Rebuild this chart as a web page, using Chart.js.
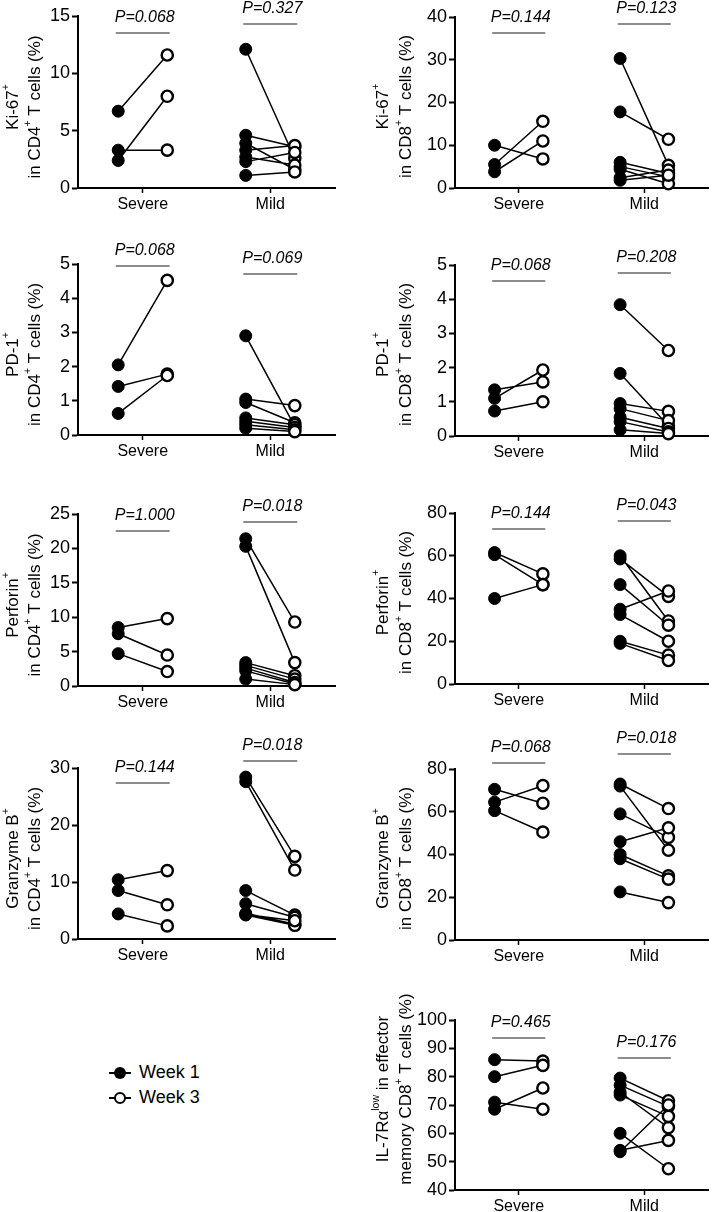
<!DOCTYPE html>
<html>
<head>
<meta charset="utf-8">
<script src="https://cdn.jsdelivr.net/npm/chart.js@4.4.1/dist/chart.umd.min.js"></script>
<style>
  body { margin: 0; background: #fff; }
  #page { position: relative; width: 716px; height: 1212px; overflow: hidden; }
  #page canvas { position: absolute; }
  .legend { position: absolute; left: 108px; top: 1060px; font: 18px "Liberation Sans", Arial, sans-serif; color: #000; }
  .legend .row { height: 25px; line-height: 25px; display: flex; align-items: center; }
  .legend .mk { position: relative; width: 24px; height: 14px; margin-right: 7px; }
  .legend .mk::before { content: ''; position: absolute; left: 1px; right: 1px; top: 6px; height: 2px; background: #000; }
  .legend .mk::after { content: ''; position: absolute; left: 6px; top: 1px; width: 12px; height: 12px; border-radius: 50%; box-sizing: border-box; background: #000; }
  .legend .mk.open::after { background: #fff; border: 2.5px solid #000; }
</style>
</head>
<body>
<div id="page"></div>
<script>
// groups / weeks
const groups = ['Severe', 'Mild'];
const weeks = ['Week 1', 'Week 3'];

// Ki-67+ in CD4+ T cells
const ki67Cd4Title = ['Ki-67^{+}', 'in CD4^{+} T cells (%)'];
const ki67Cd4Ticks = [0, 5, 10, 15];
const ki67Cd4Wk1 = [[6.7, 3.3, 2.4], [12.1, 4.6, 3.9, 3.3, 2.7, 2.3, 1.1]];
const ki67Cd4Wk3 = [[11.6, 3.3, 8.0], [2.6, 3.6, 1.6, 3.7, 2.0, 3.1, 1.4]];
const ki67Cd4P = ['0.068', '0.327'];

// Ki-67+ in CD8+ T cells
const ki67Cd8Title = ['Ki-67^{+}', 'in CD8^{+} T cells (%)'];
const ki67Cd8Ticks = [0, 10, 20, 30, 40];
const ki67Cd8Wk1 = [[10.0, 5.5, 3.8], [30.3, 17.8, 6.0, 5.0, 4.4, 2.4, 1.8]];
const ki67Cd8Wk3 = [[6.8, 15.6, 11.0], [5.3, 11.4, 3.4, 2.6, 1.0, 4.2, 3.0]];
const ki67Cd8P = ['0.144', '0.123'];

// PD-1+ in CD4+ T cells
const pd1Cd4Title = ['PD-1^{+}', 'in CD4^{+} T cells (%)'];
const pd1Cd4Ticks = [0, 1, 2, 3, 4, 5];
const pd1Cd4Wk1 = [[2.05, 1.42, 0.63], [2.9, 1.05, 0.95, 0.5, 0.4, 0.3, 0.2]];
const pd1Cd4Wk3 = [[4.52, 1.78, 1.74], [0.25, 0.86, 0.36, 0.3, 0.22, 0.15, 0.1]];
const pd1Cd4P = ['0.068', '0.069'];

// PD-1+ in CD8+ T cells
const pd1Cd8Title = ['PD-1^{+}', 'in CD8^{+} T cells (%)'];
const pd1Cd8Ticks = [0, 1, 2, 3, 4, 5];
const pd1Cd8Wk1 = [[1.35, 1.1, 0.73], [3.84, 1.83, 0.95, 0.8, 0.55, 0.42, 0.18]];
const pd1Cd8Wk3 = [[1.58, 1.93, 1.0], [2.5, 0.3, 0.72, 0.45, 0.22, 0.12, 0.07]];
const pd1Cd8P = ['0.068', '0.208'];

// Perforin+ in CD4+ T cells
const perfCd4Title = ['Perforin^{+}', 'in CD4^{+} T cells (%)'];
const perfCd4Ticks = [0, 5, 10, 15, 20, 25];
const perfCd4Wk1 = [[8.5, 7.6, 4.7], [21.4, 20.3, 3.4, 3.0, 2.6, 2.2, 1.0]];
const perfCd4Wk3 = [[9.8, 4.5, 2.1], [9.3, 3.4, 1.5, 1.0, 0.5, 0.3, 0.2]];
const perfCd4P = ['1.000', '0.018'];

// Perforin+ in CD8+ T cells
const perfCd8Title = ['Perforin^{+}', 'in CD8^{+} T cells (%)'];
const perfCd8Ticks = [0, 20, 40, 60, 80];
const perfCd8Wk1 = [[61.5, 60.5, 40.0], [60.0, 58.5, 46.5, 35.0, 32.5, 20.0, 19.0]];
const perfCd8Wk3 = [[51.5, 46.5, 46.5], [29.5, 41.0, 27.5, 43.5, 20.0, 13.5, 11.0]];
const perfCd8P = ['0.144', '0.043'];

// Granzyme B+ in CD4+ T cells
const gzbCd4Title = ['Granzyme B^{+}', 'in CD4^{+} T cells (%)'];
const gzbCd4Ticks = [0, 10, 20, 30];
const gzbCd4Wk1 = [[10.4, 8.5, 4.4], [28.4, 27.6, 8.5, 6.2, 4.5, 4.2, 4.3]];
const gzbCd4Wk3 = [[12.0, 6.0, 2.3], [14.5, 12.1, 4.2, 3.8, 2.6, 2.4, 3.2]];
const gzbCd4P = ['0.144', '0.018'];

// Granzyme B+ in CD8+ T cells
const gzbCd8Title = ['Granzyme B^{+}', 'in CD8^{+} T cells (%)'];
const gzbCd8Ticks = [0, 20, 40, 60, 80];
const gzbCd8Wk1 = [[70.5, 64.5, 60.5], [73.0, 72.0, 59.0, 46.0, 40.0, 38.0, 22.5]];
const gzbCd8Wk3 = [[64.0, 72.2, 50.5], [61.5, 42.0, 48.0, 52.5, 30.0, 28.5, 17.5]];
const gzbCd8P = ['0.068', '0.018'];

// IL-7Ra low in effector memory CD8+ T cells
const il7rTitle = ['IL-7R\u03b1^{low} in effector', 'memory CD8^{+} T cells (%)'];
const il7rTicks = [40, 50, 60, 70, 80, 90, 100];
const il7rWk1 = [[86.0, 80.0, 71.0, 68.5], [79.5, 77.0, 74.5, 73.5, 60.0, 54.0, 53.5]];
const il7rWk3 = [[85.5, 84.0, 68.5, 76.0], [71.5, 69.5, 62.0, 66.0, 47.5, 57.5, 70.0]];
const il7rP = ['0.465', '0.176'];

const FONT = '"Liberation Sans", Arial, Helvetica, sans-serif';
const xSpots = [[1, 2], [3.6, 4.6]];   // week 1 / week 3 x per group
const cols = [
    { left: 0, width: 345, axisW: 78, padRight: 10, titleX: [13, 35] },
    { left: 358, width: 358, axisW: 97, padRight: 5, titleX: [25, 48] }
];
const panels = [
    { col: 0, top: 16, bottom: 188, title: ki67Cd4Title, ticks: ki67Cd4Ticks, wk1: ki67Cd4Wk1, wk3: ki67Cd4Wk3, p: ki67Cd4P, bars: [17, 8], shift: 5 },
    { col: 1, top: 17, bottom: 188, title: ki67Cd8Title, ticks: ki67Cd8Ticks, wk1: ki67Cd8Wk1, wk3: ki67Cd8Wk3, p: ki67Cd8P, bars: [16, 7], shift: 4 },
    { col: 0, top: 264, bottom: 435, title: pd1Cd4Title, ticks: pd1Cd4Ticks, wk1: pd1Cd4Wk1, wk3: pd1Cd4Wk3, p: pd1Cd4P, bars: [2, 10], shift: 5 },
    { col: 1, top: 265, bottom: 436, title: pd1Cd8Title, ticks: pd1Cd8Ticks, wk1: pd1Cd8Wk1, wk3: pd1Cd8Wk3, p: pd1Cd8P, bars: [16, 8], shift: 4 },
    { col: 0, top: 514, bottom: 686, title: perfCd4Title, ticks: perfCd4Ticks, wk1: perfCd4Wk1, wk3: perfCd4Wk3, p: perfCd4P, bars: [17, 8], shift: 5 },
    { col: 1, top: 513, bottom: 684, title: perfCd8Title, ticks: perfCd8Ticks, wk1: perfCd8Wk1, wk3: perfCd8Wk3, p: perfCd8P, bars: [16, 8], shift: 4 },
    { col: 0, top: 768, bottom: 939, title: gzbCd4Title, ticks: gzbCd4Ticks, wk1: gzbCd4Wk1, wk3: gzbCd4Wk3, p: gzbCd4P, bars: [15, -7], shift: 5 },
    { col: 1, top: 769, bottom: 940, title: gzbCd8Title, ticks: gzbCd8Ticks, wk1: gzbCd8Wk1, wk3: gzbCd8Wk3, p: gzbCd8P, bars: [-6, -15], shift: 4 },
    { col: 1, top: 1020, bottom: 1190, title: il7rTitle, ticks: il7rTicks, wk1: il7rWk1, wk3: il7rWk3, p: il7rP, bars: [18, 38], shift: -16 }
];
const PAD_TOP = 48, X_AXIS_H = 30;

// text with ^{...} superscripts, centred on (0,0)
function drawRich(ctx, str, size) {
    const parts = str.split(/(\^\{[^}]*\})/).filter(s => s.length);
    const segs = parts.map(s => s.startsWith('^{')
        ? { t: s.slice(2, -1), size: size * 0.62, dy: -size * 0.38 }
        : { t: s, size: size, dy: 0 });
    let total = 0;
    segs.forEach(s => { ctx.font = s.size + 'px ' + FONT; s.w = ctx.measureText(s.t).width; total += s.w; });
    let x = -total / 2;
    ctx.textBaseline = 'middle';
    ctx.textAlign = 'left';
    segs.forEach(s => {
        ctx.font = s.size + 'px ' + FONT;
        ctx.fillText(s.t, x, s.dy);
        x += s.w;
    });
}

const notesPlugin = {
    id: 'notes',
    afterDraw(chart) {
        const cfg = chart.options.plugins.notes;
        const { ctx, chartArea, scales: { x } } = chart;
        ctx.save();
        ctx.fillStyle = '#000';
        // axis title
        const cy = (chartArea.top + chartArea.bottom) / 2 + cfg.shift;
        cfg.title.forEach((line, i) => {
            ctx.save();
            ctx.translate(cfg.titleX[i], cy);
            ctx.rotate(-Math.PI / 2);
            drawRich(ctx, line, 17);
            ctx.restore();
        });
        // P values with bars
        cfg.p.forEach((p, g) => {
            const x0 = x.getPixelForValue(xSpots[g][0] - 0.05);
            const x1 = x.getPixelForValue(xSpots[g][1] + 0.05);
            const by = chartArea.top + cfg.bars[g];
            ctx.strokeStyle = '#666';
            ctx.lineWidth = 1.5;
            ctx.beginPath();
            ctx.moveTo(x0, by);
            ctx.lineTo(x1, by);
            ctx.stroke();
            ctx.font = 'italic 16px ' + FONT;
            ctx.textAlign = 'center';
            ctx.textBaseline = 'alphabetic';
            ctx.fillText('P=' + p, (x0 + x1) / 2 + 2, by - 11);
        });
        ctx.restore();
    }
};

function pairLine(wk1, wk3) {
    const pts = [];
    wk1.forEach((grp, g) => grp.forEach((v, i) => {
        pts.push({ x: xSpots[g][0], y: v }, { x: xSpots[g][1], y: wk3[g][i] }, { x: xSpots[g][1], y: null });
    }));
    return pts;
}

function weekPoints(arr, w) {
    const pts = [];
    arr.forEach((grp, g) => grp.forEach(v => pts.push({ x: xSpots[g][w], y: v })));
    return pts;
}

function renderPanel(pn) {
    const col = cols[pn.col];
    const page = document.getElementById('page');
    const cv = document.createElement('canvas');
    const h = PAD_TOP + (pn.bottom - pn.top) + X_AXIS_H;
    cv.width = col.width;
    cv.height = h;
    cv.style.left = col.left + 'px';
    cv.style.top = (pn.top - PAD_TOP) + 'px';
    cv.style.width = col.width + 'px';
    cv.style.height = h + 'px';
    page.appendChild(cv);

    const ticks = pn.ticks;
    new Chart(cv, {
        type: 'scatter',
        data: {
            datasets: [
                {
                    label: 'pairs',
                    data: pairLine(pn.wk1, pn.wk3),
                    showLine: true,
                    spanGaps: false,
                    borderColor: '#000',
                    borderWidth: 1.5,
                    pointRadius: 0,
                    clip: false,
                    order: 3
                },
                {
                    label: weeks[1],
                    data: weekPoints(pn.wk3, 1),
                    pointRadius: 5.6,
                    pointBorderWidth: 2.4,
                    pointBorderColor: '#000',
                    pointBackgroundColor: '#fff',
                    clip: false,
                    order: 2
                },
                {
                    label: weeks[0],
                    data: weekPoints(pn.wk1, 0),
                    pointRadius: 6,
                    pointBorderWidth: 1,
                    pointBorderColor: '#000',
                    pointBackgroundColor: '#000',
                    clip: false,
                    order: 1
                }
            ]
        },
        options: {
            responsive: false,
            animation: false,
            events: [],
            layout: { padding: { top: PAD_TOP, right: col.padRight, left: 0, bottom: 0 } },
            scales: {
                x: {
                    type: 'linear',
                    min: 0.18,
                    max: 5.42,
                    afterBuildTicks: s => { s.ticks = xSpots.map(sp => ({ value: (sp[0] + sp[1]) / 2 })); },
                    afterFit: s => { s.height = X_AXIS_H; },
                    ticks: {
                        callback: (v, i) => groups[i],
                        autoSkip: false,
                        maxRotation: 0,
                        color: '#000',
                        padding: 2,
                        font: { family: FONT, size: 16 }
                    },
                    grid: { drawOnChartArea: false, tickLength: 5, tickWidth: 1.5, tickColor: '#000' },
                    border: { display: true, color: '#000', width: 2 }
                },
                y: {
                    min: ticks[0],
                    max: ticks[ticks.length - 1],
                    afterBuildTicks: s => { s.ticks = ticks.map(v => ({ value: v })); },
                    afterFit: s => { s.width = col.axisW; },
                    ticks: {
                        color: '#000',
                        padding: 2,
                        font: { family: FONT, size: 18 }
                    },
                    grid: { drawOnChartArea: false, tickLength: 6, tickWidth: 2, tickColor: '#000' },
                    border: { display: true, color: '#000', width: 2 }
                }
            },
            plugins: {
                legend: { display: false },
                tooltip: { enabled: false },
                notes: { title: pn.title, titleX: col.titleX, shift: pn.shift, p: pn.p, bars: pn.bars }
            }
        },
        plugins: [notesPlugin]
    });
}

panels.forEach(renderPanel);

// legend
(function () {
    const box = document.createElement('div');
    box.className = 'legend';
    weeks.forEach((w, i) => {
        const row = document.createElement('div');
        row.className = 'row';
        const mk = document.createElement('span');
        mk.className = i === 0 ? 'mk' : 'mk open';
        row.appendChild(mk);
        row.appendChild(document.createTextNode(w));
        box.appendChild(row);
    });
    document.getElementById('page').appendChild(box);
})();
</script>
</body>
</html>
